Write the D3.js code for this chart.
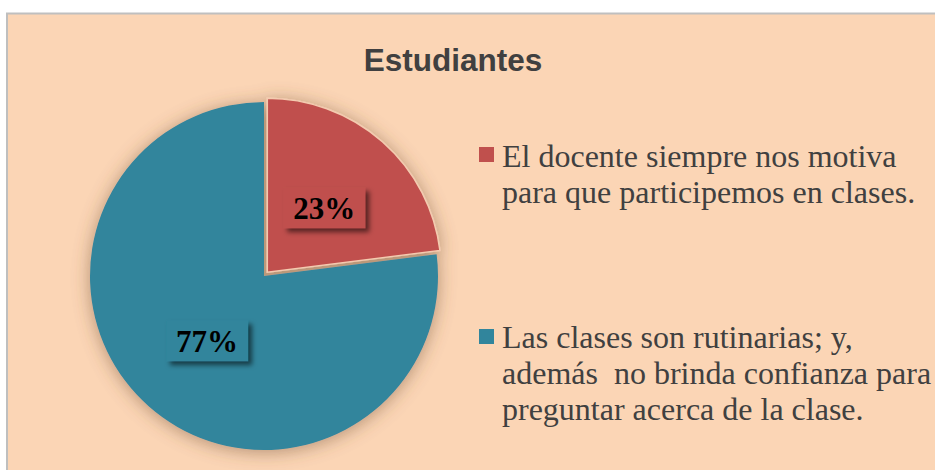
<!DOCTYPE html>
<html>
<head>
<meta charset="utf-8">
<script src="https://cdn.jsdelivr.net/npm/d3@7"></script>
<style>
  html, body { margin: 0; padding: 0; background: #ffffff; }
  svg { display: block; }
</style>
</head>
<body>
<svg id="chart" width="935" height="470"></svg>
<script>
// ---- data ----
const title = "Estudiantes";
const categories = [
  "El docente siempre nos motiva para que participemos en clases.",
  "Las clases son rutinarias; y, además  no brinda confianza para preguntar acerca de la clase."
];
const legendLines = [
  ["El docente siempre nos motiva", "para que participemos en clases."],
  ["Las clases son rutinarias; y,", "además  no brinda confianza para", "preguntar acerca de la clase."]
];
const values = [23, 77];
const valueLabels = ["23%", "77%"];
const colors = ["#C0504D", "#31859C"];

// ---- layout ----
const W = 935, H = 470;
const svg = d3.select("#chart");
const defs = svg.append("defs");

const pieShadow = defs.append("filter").attr("id", "pieShadow")
  .attr("x", "-30%").attr("y", "-30%").attr("width", "160%").attr("height", "160%");
pieShadow.append("feGaussianBlur").attr("in", "SourceAlpha").attr("stdDeviation", 9).attr("result", "b");
pieShadow.append("feOffset").attr("in", "b").attr("dx", 0).attr("dy", 2).attr("result", "o");
pieShadow.append("feFlood").attr("flood-color", "#6b4a30").attr("flood-opacity", 0.5);
pieShadow.append("feComposite").attr("in2", "o").attr("operator", "in").attr("result", "s");
const m1 = pieShadow.append("feMerge");
m1.append("feMergeNode").attr("in", "s");
m1.append("feMergeNode").attr("in", "SourceGraphic");

const boxShadow = defs.append("filter").attr("id", "boxShadow")
  .attr("x", "-30%").attr("y", "-40%").attr("width", "170%").attr("height", "190%");
boxShadow.append("feGaussianBlur").attr("in", "SourceAlpha").attr("stdDeviation", 2.5).attr("result", "b");
boxShadow.append("feOffset").attr("in", "b").attr("dx", 4).attr("dy", 4).attr("result", "o");
boxShadow.append("feFlood").attr("flood-color", "#000").attr("flood-opacity", 0.55);
boxShadow.append("feComposite").attr("in2", "o").attr("operator", "in").attr("result", "s");
const m2 = boxShadow.append("feMerge");
m2.append("feMergeNode").attr("in", "s");
m2.append("feMergeNode").attr("in", "SourceGraphic");

// chart area background
svg.append("rect")
  .attr("x", 7).attr("y", 13.5).attr("width", 1000).attr("height", 1000)
  .attr("fill", "#FBD5B5").attr("stroke", "#BFBFBF").attr("stroke-width", 2);

// title
svg.append("text")
  .attr("x", 453).attr("y", 71)
  .attr("text-anchor", "middle")
  .attr("font-family", "'Liberation Sans', Arial, sans-serif")
  .attr("font-weight", "bold").attr("font-size", 31.5)
  .attr("fill", "#404040")
  .text(title);

// pie
const cx = 264, cy = 276, R = 174, explode = 5;
const pie = d3.pie().sort(null).value(d => d);
const arcs = pie(values);
const arc = d3.arc().innerRadius(0).outerRadius(R);
const g = svg.append("g").attr("transform", `translate(${cx},${cy})`);
const slicesG = g.append("g").attr("filter", "url(#pieShadow)");

function offsetFor(d, i) {
  if (i !== 0) return [0, 0];
  const a = (d.startAngle + d.endAngle) / 2;
  return [Math.sin(a) * explode, -Math.cos(a) * explode];
}

slicesG.selectAll("path").data(arcs).enter().append("path")
  .attr("d", arc)
  .attr("transform", (d, i) => { const o = offsetFor(d, i); return `translate(${o[0]},${o[1]})`; })
  .attr("fill", (d, i) => colors[i])
  .attr("stroke", (d, i) => i === 0 ? "#F4CBB0" : "none")
  .attr("stroke-width", 1.5);

// data labels with boxes
const labelArc = d3.arc().innerRadius(R * 0.495).outerRadius(R * 0.495);
const bw = 82, bh = 41;
arcs.forEach((d, i) => {
  const o = offsetFor(d, i);
  const c = labelArc.centroid(d);
  const lx = c[0] + o[0], ly = c[1] + o[1];
  const lg = g.append("g").attr("transform", `translate(${lx},${ly})`);
  lg.append("rect")
    .attr("x", -bw / 2).attr("y", -bh / 2).attr("width", bw).attr("height", bh)
    .attr("fill", colors[i]).attr("filter", "url(#boxShadow)");
  lg.append("text")
    .attr("x", 0).attr("y", 11)
    .attr("text-anchor", "middle")
    .attr("font-family", "'Liberation Serif', 'Times New Roman', serif")
    .attr("font-weight", "bold").attr("font-size", 31)
    .attr("fill", "#000")
    .text(valueLabels[i]);
});

// legend
const legendTop = [147, 329];
const lineH = 36;
categories.forEach((cat, i) => {
  const lg = svg.append("g");
  lg.append("rect")
    .attr("x", 479).attr("y", legendTop[i]).attr("width", 15).attr("height", 15)
    .attr("fill", colors[i]);
  const t = lg.append("text")
    .attr("font-family", "'Liberation Serif', 'Times New Roman', serif")
    .attr("font-size", 32)
    .attr("fill", "#404040")
    .attr("xml:space", "preserve")
    .style("white-space", "pre");
  legendLines[i].forEach((ln, j) => {
    t.append("tspan").attr("x", 502).attr("y", legendTop[i] + 20 - (i === 1 ? 1 : 0) + j * lineH).text(ln);
  });
});
</script>
</body>
</html>
